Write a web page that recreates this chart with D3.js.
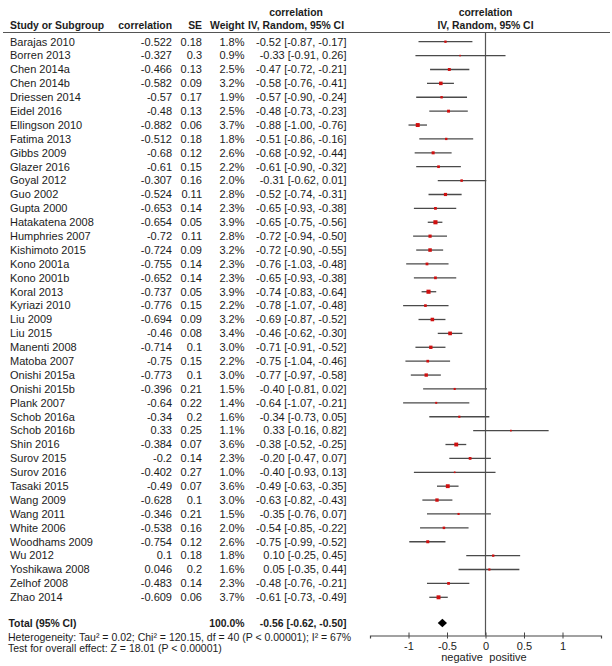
<!DOCTYPE html>
<html><head><meta charset="utf-8">
<script src="https://cdn.jsdelivr.net/npm/d3@7"></script>
<style>
html,body{margin:0;padding:0;background:#fff;}
svg text{font-family:"Liberation Sans",Arial,sans-serif;font-size:11px;fill:#1c1c1c;}
svg text.b{font-weight:bold;font-size:10.4px;}
</style></head>
<body>
<svg id="chart" width="612" height="666"></svg>
<script>
const studies = ["Barajas 2010","Borren 2013","Chen 2014a","Chen 2014b","Driessen 2014","Eidel 2016","Ellingson 2010","Fatima 2013","Gibbs 2009","Glazer 2016","Goyal 2012","Guo 2002","Gupta 2000","Hatakatena 2008","Humphries 2007","Kishimoto 2015","Kono 2001a","Kono 2001b","Koral 2013","Kyriazi 2010","Liu 2009","Liu 2015","Manenti 2008","Matoba 2007","Onishi 2015a","Onishi 2015b","Plank 2007","Schob 2016a","Schob 2016b","Shin 2016","Surov 2015","Surov 2016","Tasaki 2015","Wang 2009","Wang 2011","White 2006","Woodhams 2009","Wu 2012","Yoshikawa 2008","Zelhof 2008","Zhao 2014"];
const correlation = ["-0.522","-0.327","-0.466","-0.582","-0.57","-0.48","-0.882","-0.512","-0.68","-0.61","-0.307","-0.524","-0.653","-0.654","-0.72","-0.724","-0.755","-0.652","-0.737","-0.776","-0.694","-0.46","-0.714","-0.75","-0.773","-0.396","-0.64","-0.34","0.33","-0.384","-0.2","-0.402","-0.49","-0.628","-0.346","-0.538","-0.754","0.1","0.046","-0.483","-0.609"];
const se = ["0.18","0.3","0.13","0.09","0.17","0.13","0.06","0.18","0.12","0.15","0.16","0.11","0.14","0.05","0.11","0.09","0.14","0.14","0.05","0.15","0.09","0.08","0.1","0.15","0.1","0.21","0.22","0.2","0.25","0.07","0.14","0.27","0.07","0.1","0.21","0.16","0.12","0.18","0.2","0.14","0.06"];
const weight = [1.8,0.9,2.5,3.2,1.9,2.5,3.7,1.8,2.6,2.2,2.0,2.8,2.3,3.9,2.8,3.2,2.3,2.3,3.9,2.2,3.2,3.4,3.0,2.2,3.0,1.5,1.4,1.6,1.1,3.6,2.3,1.0,3.6,3.0,1.5,2.0,2.6,1.8,1.6,2.3,3.7];
const estimate = [-0.52,-0.33,-0.47,-0.58,-0.57,-0.48,-0.88,-0.51,-0.68,-0.61,-0.31,-0.52,-0.65,-0.65,-0.72,-0.72,-0.76,-0.65,-0.74,-0.78,-0.69,-0.46,-0.71,-0.75,-0.77,-0.40,-0.64,-0.34,0.33,-0.38,-0.20,-0.40,-0.49,-0.63,-0.35,-0.54,-0.75,0.10,0.05,-0.48,-0.61];
const ciLow = [-0.87,-0.91,-0.72,-0.76,-0.90,-0.73,-1.00,-0.86,-0.92,-0.90,-0.62,-0.74,-0.93,-0.75,-0.94,-0.90,-1.03,-0.93,-0.83,-1.07,-0.87,-0.62,-0.91,-1.04,-0.97,-0.81,-1.07,-0.73,-0.16,-0.52,-0.47,-0.93,-0.63,-0.82,-0.76,-0.85,-0.99,-0.25,-0.35,-0.76,-0.73];
const ciHigh = [-0.17,0.26,-0.21,-0.41,-0.24,-0.23,-0.76,-0.16,-0.44,-0.32,0.01,-0.31,-0.38,-0.56,-0.50,-0.55,-0.48,-0.38,-0.64,-0.48,-0.52,-0.30,-0.52,-0.46,-0.58,0.02,-0.21,0.05,0.82,-0.25,0.07,0.13,-0.35,-0.43,0.07,-0.22,-0.52,0.45,0.44,-0.21,-0.49];
const total = {est:-0.56, lo:-0.62, hi:-0.50, weight:"100.0%"};
const tickValues = [-1,-0.5,0,0.5,1];
const tickLabels = ["-1","-0.5","0","0.5","1"];
const heterogeneity = "Heterogeneity: Tau\u00b2 = 0.02; Chi\u00b2 = 120.15, df = 40 (P < 0.00001); I\u00b2 = 67%";
const overall = "Test for overall effect: Z = 18.01 (P < 0.00001)";

const svg = d3.select("#chart");
const x = d3.scaleLinear().domain([-1.5,1.5]).range([370,601]);
const y = d3.scalePoint().domain(studies).range([41.7,597.3]);
const size = d3.scaleLinear().domain([0,4]).range([0.8,4.2]);
const loc = d3.formatLocale({decimal:".", thousands:",", grouping:[3], currency:["",""], minus:"-"});
const fmt = loc.format(".2f");
const fmt1 = loc.format(".1f");
const ciText = (e,l,h)=>`${fmt(e)} [${fmt(l)}, ${fmt(h)}]`;

const col = {name:10, corr:172, se:202, w:244.5, ci:346.5};

// headers
svg.append("text").attr("class","b").attr("x",296).attr("y",12).attr("dy","0.35em").attr("text-anchor","middle").text("correlation");
svg.append("text").attr("class","b").attr("x",x(0)).attr("y",12).attr("dy","0.35em").attr("text-anchor","middle").text("correlation");
const hdr = [["Study or Subgroup",col.name,"start"],["correlation",col.corr,"end"],["SE",col.se,"end"],["Weight",col.w,"end"],["IV, Random, 95% CI",296,"middle"],["IV, Random, 95% CI",x(0),"middle"]];
hdr.forEach(h=>svg.append("text").attr("class","b").attr("x",h[1]).attr("y",25).attr("dy","0.35em").attr("text-anchor",h[2]).text(h[0]));
svg.append("line").attr("x1",3).attr("x2",610).attr("y1",32.5).attr("y2",32.5).attr("stroke","#555").attr("stroke-width",1.2);

// zero line
svg.append("line").attr("x1",x(0)).attr("x2",x(0)).attr("y1",32.5).attr("y2",635.5).attr("stroke","#555").attr("stroke-width",1.2);

// rows
const rows = svg.append("g").selectAll("g").data(studies).join("g").attr("transform",d=>`translate(0,${y(d)})`);
rows.append("text").attr("x",col.name).attr("dy","0.35em").text(d=>d);
rows.append("text").attr("x",col.corr).attr("dy","0.35em").attr("text-anchor","end").text((d,i)=>correlation[i]);
rows.append("text").attr("x",col.se).attr("dy","0.35em").attr("text-anchor","end").text((d,i)=>se[i]);
rows.append("text").attr("x",col.w).attr("dy","0.35em").attr("text-anchor","end").text((d,i)=>fmt1(weight[i])+"%");
rows.append("text").attr("x",col.ci).attr("dy","0.35em").attr("text-anchor","end").text((d,i)=>ciText(estimate[i],ciLow[i],ciHigh[i]));
rows.append("line").attr("x1",(d,i)=>x(ciLow[i])).attr("x2",(d,i)=>x(ciHigh[i])).attr("stroke","#4a4a4a").attr("stroke-width",1.3);
rows.append("rect").attr("x",(d,i)=>x(estimate[i]) - size(weight[i])/2).attr("y",(d,i)=>-size(weight[i])/2)
  .attr("width",(d,i)=>size(weight[i])).attr("height",(d,i)=>size(weight[i])).attr("fill","#d01010");

// total
const ty = 623;
svg.append("text").attr("class","b").attr("x",8.5).attr("y",ty).attr("dy","0.35em").text("Total (95% CI)");
svg.append("text").attr("class","b").attr("x",col.w).attr("y",ty).attr("dy","0.35em").attr("text-anchor","end").text(total.weight);
svg.append("text").attr("class","b").attr("x",col.ci).attr("y",ty).attr("dy","0.35em").attr("text-anchor","end").text(ciText(total.est,total.lo,total.hi));
svg.append("path").attr("d",`M${x(total.lo)},${ty}L${x(total.est)},${ty-4.2}L${x(total.hi)},${ty}L${x(total.est)},${ty+4.2}Z`).attr("fill","#000");

svg.append("text").attr("x",8).attr("y",637).attr("dy","0.35em").style("font-size","10.5px").text(heterogeneity);
svg.append("text").attr("x",8).attr("y",648).attr("dy","0.35em").style("font-size","10.5px").text(overall);

// axis
const axis = d3.axisBottom(x).tickValues(tickValues).tickFormat((d,i)=>tickLabels[i]).tickSizeOuter(0).tickSize(3);
const ag = svg.append("g").attr("transform","translate(0,635.5)").call(axis);
ag.select(".domain").attr("stroke","#444").attr("stroke-width",1.2);
ag.selectAll(".tick line").attr("y1",-3).attr("y2",3).attr("stroke","#444");
ag.selectAll(".tick text").attr("y",10.5).attr("dy","0.35em").style("font-size","11px").style("font-family","'Liberation Sans',Arial,sans-serif").attr("fill","#1c1c1c");
svg.append("text").attr("x",462).attr("y",657).attr("dy","0.35em").attr("text-anchor","middle").text("negative");
svg.append("text").attr("x",508).attr("y",657).attr("dy","0.35em").attr("text-anchor","middle").text("positive");
</script>
</body></html>
